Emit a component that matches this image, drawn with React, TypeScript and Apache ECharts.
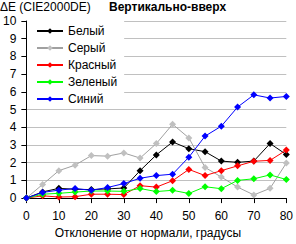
import React, { useEffect, useRef } from "react";
import * as echarts from "echarts";

const degrees = [0, 5, 10, 15, 20, 25, 30, 35, 40, 45, 50, 55, 60, 65, 70, 75, 80];
const white = [0, 0.35, 0.55, 0.5, 0.48, 0.52, 0.57, 1.55, 2.44, 3.17, 2.79, 2.62, 2.09, 2.02, 2.09, 3.08, 2.46];
const grey = [0, 0.77, 1.55, 1.86, 2.4, 2.37, 2.55, 2.26, 3.08, 4.17, 3.4, 1.73, 1.19, 0.62, 0.18, 0.55, 1.98];
const red = [0, 0.13, 0.06, 0.08, 0.22, 0.22, 0.2, 0.7, 0.62, 0.98, 1.62, 1.27, 1.55, 1.82, 2.08, 2.13, 2.71];
const green = [0, 0.22, 0.27, 0.34, 0.4, 0.4, 0.38, 0.54, 0.37, 0.44, 0.26, 0.64, 0.53, 1.0, 1.09, 1.31, 1.05];
const blue = [0, 0.32, 0.45, 0.54, 0.44, 0.6, 0.82, 1.12, 1.27, 1.35, 2.31, 3.5, 4.06, 5.14, 5.83, 5.65, 5.74];

const seriesNames = ["Белый", "Серый", "Красный", "Зеленый", "Синий"];
const seriesValues = [white, grey, red, green, blue];
const lineColors = ["#000000", "#a0a0a0", "#ff0000", "#00ff00", "#0000ff"];
const markerColors = ["#000000", "#c0c0c0", "#ff0000", "#00ff00", "#0000ff"];

const FONT = "'Liberation Sans', Arial, sans-serif";

export default function App() {
  const ref = useRef<HTMLDivElement>(null);
  useEffect(() => {
    if (!ref.current) return;
    const chart = echarts.init(ref.current, undefined, { renderer: "svg" });
    chart.setOption({
      animation: false,
      backgroundColor: "#ffffff",
      title: [
        {
          text: "ΔE (CIE2000DE)",
          left: 0,
          top: 1,
          padding: 0,
          textStyle: { fontFamily: FONT, fontSize: 12, fontWeight: "normal", color: "#000" },
        },
        {
          text: "Вертикально-вверх",
          left: 109,
          top: 1,
          padding: 0,
          textStyle: { fontFamily: FONT, fontSize: 12, fontWeight: "bold", color: "#000" },
        },
      ],
      legend: {
        orient: "vertical",
        left: 27,
        top: 21,
        padding: [3, 7, 0, 9],
        backgroundColor: "#ffffff",
        itemWidth: 26,
        itemHeight: 7,
        itemGap: 3,
        textStyle: { fontFamily: FONT, fontSize: 12, color: "#000", lineHeight: 14 },
        data: seriesNames,
      },
      grid: { left: 26, right: 5, top: 21, bottom: 40 },
      xAxis: {
        type: "value",
        min: 0,
        max: 80,
        interval: 10,
        name: "Отклонение от нормали, градусы",
        nameLocation: "middle",
        nameGap: 24,
        nameTextStyle: { fontFamily: FONT, fontSize: 12, color: "#000", padding: [0, 17, 0, 0] },
        axisLine: { show: true, lineStyle: { color: "#000", width: 1 } },
        axisTick: { show: true, length: 5, lineStyle: { color: "#000" } },
        axisLabel: { fontFamily: FONT, fontSize: 12, color: "#000", margin: 12 },
        splitLine: { show: false },
      },
      yAxis: {
        type: "value",
        min: 0,
        max: 10,
        interval: 1,
        axisLine: { show: true, lineStyle: { color: "#000", width: 1 } },
        axisTick: { show: true, length: 5, lineStyle: { color: "#000" } },
        axisLabel: { fontFamily: FONT, fontSize: 12, color: "#000", margin: 10 },
        splitLine: { show: true, lineStyle: { color: "#c0c0c0", width: 1 } },
      },
      series: seriesNames.map((name, i) => ({
        name,
        type: "line",
        data: degrees.map((d, j) => [d, seriesValues[i][j]]),
        symbol: "diamond",
        symbolSize: 7,
        showSymbol: true,
        lineStyle: { color: lineColors[i], width: 1 },
        itemStyle: { color: markerColors[i] },
        z: 2 + i,
      })),
    });
    return () => chart.dispose();
  }, []);
  return (
    <div
      ref={ref}
      style={{ position: "absolute", left: 0, top: 0, width: 296, height: 244 }}
    />
  );
}
